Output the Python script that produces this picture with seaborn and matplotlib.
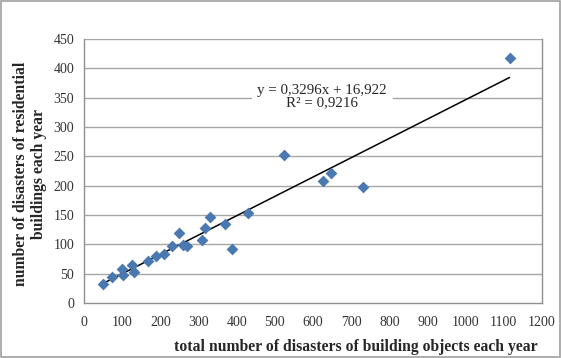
import matplotlib
matplotlib.use("Agg")
import matplotlib.pyplot as plt
import seaborn as sns
import numpy as np
import pandas as pd

# data
total_disasters = [50, 74, 100, 102, 125, 132, 168, 188, 210, 230, 250, 259, 270,
                   309, 317, 330, 370, 387, 430, 524, 626, 648, 730, 1115]
residential_disasters = [32, 44, 58, 48, 64, 52, 72, 80, 84, 98, 119, 99, 97,
                         108, 127, 147, 135, 92, 153, 252, 208, 221, 197, 418]
slope = 0.3296
intercept = 16.922
x_ticks = list(range(0, 1201, 100))
y_ticks = list(range(0, 451, 50))

df = pd.DataFrame({"x": total_disasters, "y": residential_disasters})
xfit = np.array([min(total_disasters), max(total_disasters)])
fit = pd.DataFrame({"x": xfit, "y": slope * xfit + intercept})

sns.set_theme(style="white")
plt.rcParams["font.family"] = ["Liberation Serif", "DejaVu Serif"]

fig = plt.figure(figsize=(5.61, 3.58), dpi=100)
ax = fig.add_axes([84/561, 1 - 303/358, (542-84)/561, (303-39)/358])

for yv in y_ticks[1:]:
    ax.axhline(yv, color="#a6a6a6", lw=1.0, zorder=0)

sns.lineplot(data=fit, x="x", y="y", ax=ax, color="black", lw=1.1, zorder=2)
sns.scatterplot(data=df, x="x", y="y", ax=ax, marker="D", s=36, color="#4a78b0",
                edgecolor="#4a78b0", linewidth=0, zorder=3)

ax.set_xlim(0, 1200)
ax.set_ylim(0, 450)
ax.set_xticks(x_ticks)
ax.set_yticks(y_ticks)
ax.tick_params(axis="both", labelsize=10, length=3, width=0.8, color="#808080",
               direction="out", pad=4, colors="#333333")
ax.tick_params(axis="x", pad=6)
for s in ["left", "bottom", "right"]:
    ax.spines[s].set_color("#909090")
    ax.spines[s].set_linewidth(1.0)
ax.spines["top"].set_visible(False)

ax.set_xlabel("total number of disasters of building objects each year",
              fontsize=11.3, fontweight="bold")
ax.set_ylabel("number of disasters of residential\nbuildings each year",
              fontsize=11.3, fontweight="bold", linespacing=1.2)
ax.xaxis.set_label_coords(0.594, -0.135)
ax.yaxis.set_label_coords(-0.081, 0.489)

ax.text(0.52, 0.782, "y = 0,3296x + 16,922\nR² = 0,9216", transform=ax.transAxes,
        fontsize=10.8, ha="center", va="center", linespacing=1.0,
        bbox=dict(facecolor="white", edgecolor="none", pad=4), zorder=4)

fig.patches.append(plt.Rectangle((0.002, 0.003), 0.996, 0.994, transform=fig.transFigure,
                                 fill=False, edgecolor="#a0a0a0", lw=1.2))
fig.savefig("out.png", dpi=100)
